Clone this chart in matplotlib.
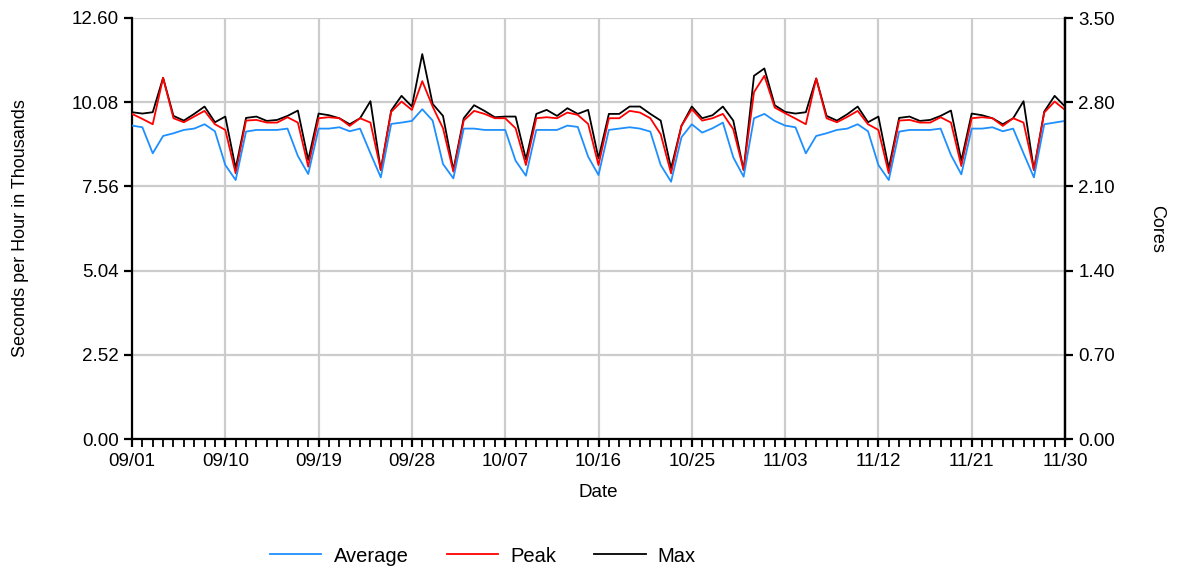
import matplotlib
matplotlib.use("Agg")
import matplotlib.pyplot as plt
import numpy as np

plt.rcParams['font.family'] = ['Liberation Sans', 'DejaVu Sans']

start_date = "2023-09-01"
n_days = 91
x_tick_labels = ["09/01", "09/10", "09/19", "09/28", "10/07", "10/16",
                 "10/25", "11/03", "11/12", "11/21", "11/30"]
left_ticks = [0.00, 2.52, 5.04, 7.56, 10.08, 12.60]
right_ticks = [0.00, 0.70, 1.40, 2.10, 2.80, 3.50]

average = [9.38, 9.33, 8.55, 9.07, 9.15, 9.25, 9.29, 9.42, 9.21, 8.20,
           7.75, 9.20, 9.25, 9.25, 9.25, 9.29, 8.47, 7.93, 9.29, 9.29,
           9.33, 9.21, 9.29, 8.55, 7.83, 9.43, 9.47, 9.52, 9.87, 9.53,
           8.23, 7.80, 9.29, 9.29, 9.25, 9.25, 9.25, 8.33, 7.88, 9.25,
           9.25, 9.25, 9.38, 9.34, 8.45, 7.90, 9.25, 9.29, 9.33, 9.29,
           9.20, 8.20, 7.70, 9.03, 9.42, 9.17, 9.30, 9.47, 8.43, 7.85,
           9.60, 9.73, 9.52, 9.38, 9.33, 8.55, 9.07, 9.15, 9.25, 9.29,
           9.42, 9.21, 8.20, 7.75, 9.20, 9.25, 9.25, 9.25, 9.29, 8.50,
           7.92, 9.29, 9.29, 9.33, 9.21, 9.29, 8.55, 7.83, 9.42, 9.47,
           9.52]
peak = [9.73, 9.58, 9.42, 10.81, 9.60, 9.48, 9.65, 9.82, 9.42, 9.25,
        7.95, 9.53, 9.55, 9.47, 9.47, 9.63, 9.47, 8.15, 9.60, 9.63,
        9.60, 9.37, 9.60, 9.47, 8.05, 9.79, 10.10, 9.85, 10.71, 9.95,
        9.30, 8.00, 9.53, 9.82, 9.73, 9.60, 9.60, 9.30, 8.20, 9.60,
        9.63, 9.60, 9.77, 9.70, 9.43, 8.20, 9.60, 9.60, 9.82, 9.77,
        9.60, 9.12, 7.95, 9.37, 9.87, 9.53, 9.60, 9.73, 9.27, 8.05,
        10.38, 10.87, 9.92, 9.75, 9.59, 9.42, 10.79, 9.60, 9.48, 9.64,
        9.82, 9.42, 9.25, 7.95, 9.53, 9.55, 9.47, 9.47, 9.63, 9.47,
        8.17, 9.60, 9.63, 9.60, 9.37, 9.60, 9.47, 8.05, 9.77, 10.10,
        9.85]
max_vals = [9.78, 9.74, 9.78, 10.81, 9.67, 9.53, 9.73, 9.95, 9.48, 9.65,
            8.10, 9.61, 9.65, 9.52, 9.55, 9.67, 9.83, 8.35, 9.74, 9.69,
            9.60, 9.42, 9.60, 10.11, 8.05, 9.83, 10.27, 9.95, 11.52, 10.03,
            9.67, 8.05, 9.60, 9.99, 9.82, 9.63, 9.65, 9.65, 8.37, 9.73,
            9.85, 9.67, 9.90, 9.73, 9.85, 8.40, 9.73, 9.73, 9.95, 9.95,
            9.73, 9.53, 8.10, 9.37, 9.95, 9.60, 9.69, 9.95, 9.53, 8.05,
            10.87, 11.09, 9.99, 9.79, 9.74, 9.78, 10.79, 9.67, 9.53, 9.72,
            9.95, 9.48, 9.65, 8.10, 9.61, 9.65, 9.52, 9.55, 9.67, 9.83,
            8.33, 9.74, 9.69, 9.60, 9.42, 9.60, 10.11, 8.05, 9.80, 10.27,
            9.95]

x = np.arange(n_days)

fig = plt.figure(figsize=(11.85, 5.67), dpi=100)
ax = fig.add_axes([132/1185, 1 - 439/567, (1065 - 132)/1185, (439 - 18)/567])

grid_c = "#cccccc"
l_max, = ax.plot(x, max_vals, color="black", lw=1.3, zorder=3)
l_peak, = ax.plot(x, peak, color="#ff0000", lw=1.3, zorder=4)
l_avg, = ax.plot(x, average, color="#1e8fff", lw=1.3, zorder=5)

ax.set_xlim(0, n_days - 1)
ax.set_ylim(0, 12.60)
ax.set_yticks(left_ticks)
ax.set_yticklabels([f"{v:.2f}" for v in left_ticks])
major_x = np.arange(0, n_days, 9)
ax.set_xticks(major_x)
ax.set_xticklabels(x_tick_labels)
ax.set_xticks(x, minor=True)

ax.grid(True, axis="both", which="major", color=grid_c, lw=1.6)
ax.set_axisbelow(True)

for s in ["left", "bottom", "right"]:
    ax.spines[s].set_color("black")
    ax.spines[s].set_linewidth(1.6)
ax.spines["top"].set_visible(False)

ax.tick_params(axis="both", which="major", direction="out", length=6, width=1.6,
               labelsize=13.5, colors="black")
ax.tick_params(axis="x", which="minor", direction="out", length=6, width=1.3)
ax.tick_params(axis="x", pad=4)

ax.set_xlabel("Date", fontsize=13.5, labelpad=10)
ax.set_ylabel("Seconds per Hour in Thousands", fontsize=13, labelpad=31)

ax2 = ax.twinx()
ax2.set_ylim(0, 3.50)
ax2.set_yticks(right_ticks)
ax2.set_yticklabels([f"{v:.2f}" for v in right_ticks])
for s in ["left", "top", "bottom"]:
    ax2.spines[s].set_visible(False)
ax2.spines["right"].set_linewidth(1.6)
ax2.tick_params(axis="y", direction="out", length=6, width=1.6, labelsize=13.5)
ax2.set_ylabel("Cores", fontsize=13, rotation=270, labelpad=36)

fig.legend([l_avg, l_peak, l_max], ["Average", "Peak", "Max"],
           loc="center", bbox_to_anchor=(483/1185, 1 - 556/567), ncol=3,
           frameon=False, fontsize=14.5, handlelength=2.55, columnspacing=1.9,
           handletextpad=0.6)

fig.savefig("out.png", dpi=100)
